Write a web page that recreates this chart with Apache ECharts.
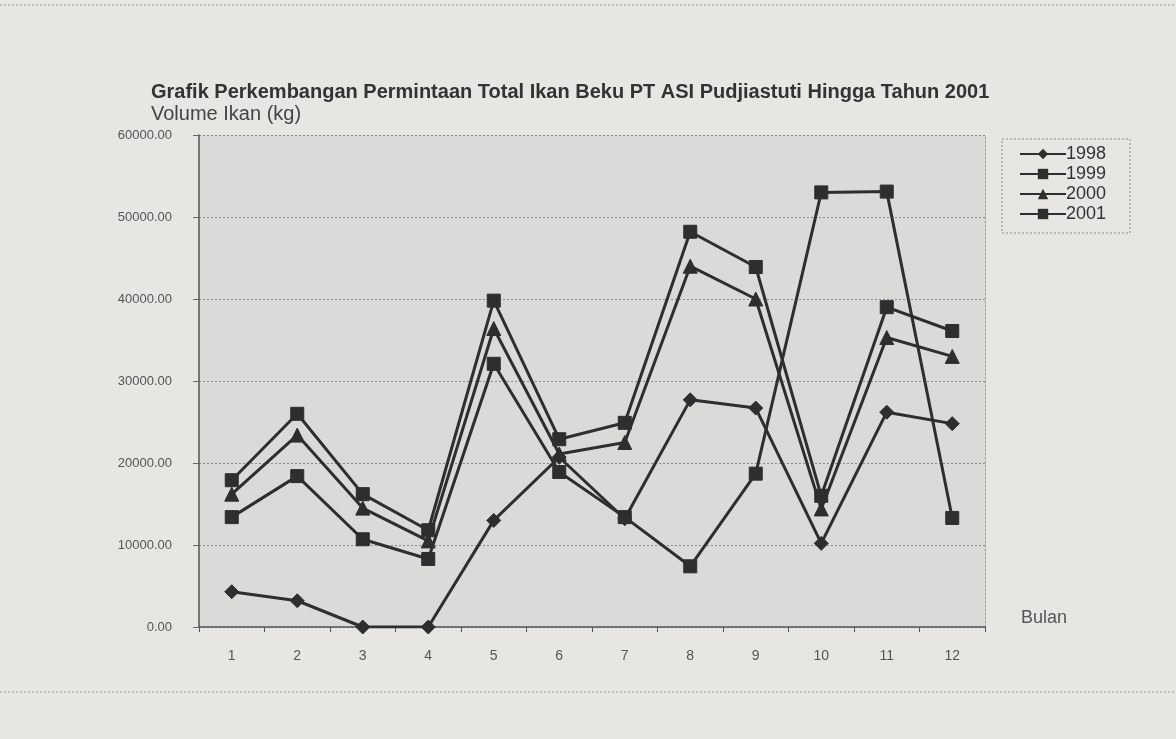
<!DOCTYPE html>
<html>
<head>
<meta charset="utf-8">
<style>
html,body{margin:0;padding:0;background:#e8e6e3;}
#chart{width:1176px;height:739px;}
</style>
<script src="https://cdn.jsdelivr.net/npm/echarts@6/dist/echarts.min.js"></script>
</head>
<body>
<div id="chart"></div>
<script>
// Data
var months = ['1','2','3','4','5','6','7','8','9','10','11','12'];
var seriesNames = ['1998','1999','2000','2001'];
var v1998 = [4300, 3200, 0, 0, 13000, 20700, 13200, 27700, 26700, 10200, 26200, 24800];
var v1999 = [17900, 26000, 16200, 11800, 39800, 22900, 24900, 48200, 43900, 16000, 39000, 36100];
var v2000 = [16200, 23400, 14500, 10500, 36400, 21100, 22500, 44000, 40000, 14400, 35300, 33000];
var v2001 = [13400, 18400, 10700, 8300, 32100, 18900, 13400, 7400, 18700, 53000, 53100, 13300];
var yTicks = {min: 0, max: 60000, interval: 10000};
var titleText = 'Grafik Perkembangan Permintaan Total Ikan Beku PT ASI Pudjiastuti Hingga Tahun 2001';
var yName = 'Volume Ikan (kg)';
var xName = 'Bulan';

var lineColor = '#2e2e2e';
var font = 'Liberation Sans, Arial, sans-serif';

function mk(name, data, symbol, size) {
  return {
    name: name, type: 'line', data: data,
    symbol: symbol, symbolSize: size,
    itemStyle: {color: lineColor, borderColor: lineColor},
    lineStyle: {color: lineColor, width: 3},
    emphasis: {disabled: true},
    animation: false
  };
}

var chart = echarts.init(document.getElementById('chart'), null, {renderer: 'canvas'});
chart.setOption({
  backgroundColor: '#e8e6e3',
  animation: false,
  textStyle: {fontFamily: font},
  title: [
    {text: titleText, left: 146, top: 77,
     textStyle: {fontFamily: font, fontSize: 20, fontWeight: 'bold', color: '#333'}},
    {text: yName, left: 146, top: 99,
     textStyle: {fontFamily: font, fontSize: 20, fontWeight: 'normal', color: '#444'}}
  ],
  legend: {
    orient: 'vertical', left: 1014, top: 140,
    itemWidth: 46, itemHeight: 13, itemGap: 2,
    data: seriesNames,
    textStyle: {fontFamily: font, fontSize: 18, color: '#333', padding: [0, 0, 0, -5]},
    selectedMode: false
  },
  grid: {left: 199, top: 135, width: 786, height: 492, show: true,
         backgroundColor: '#dadad8', borderWidth: 0},
  xAxis: {
    type: 'category', data: months, boundaryGap: true,
    name: xName, nameLocation: 'end', nameGap: 36,
    nameTextStyle: {fontFamily: font, fontSize: 18, color: '#555', verticalAlign: 'bottom'},
    axisLine: {lineStyle: {color: '#555', width: 1.5}},
    axisTick: {show: true, length: 5, lineStyle: {color: '#555'}},
    axisLabel: {fontFamily: font, fontSize: 14, color: '#555', margin: 22}
  },
  yAxis: [{
    type: 'value', min: yTicks.min, max: yTicks.max, interval: yTicks.interval,
    axisLine: {show: true, lineStyle: {color: '#555', width: 1.5}},
    axisTick: {show: true, length: 6, lineStyle: {color: '#666'}},
    axisLabel: {fontFamily: font, fontSize: 13, color: '#555', margin: 27,
      formatter: function (v) { return v.toFixed(2); }},
    splitLine: {show: true, lineStyle: {color: '#8a8a8a', type: [2, 2], width: 1}}
  }, {
    type: 'value', position: 'right', min: yTicks.min, max: yTicks.max, interval: yTicks.interval,
    axisLine: {show: true, lineStyle: {color: '#999', type: [2, 2], width: 1}},
    axisTick: {show: false}, axisLabel: {show: false}, splitLine: {show: false}
  }],
  graphic: [
    {type: 'rect', shape: {x: 1002, y: 139, width: 128, height: 94},
     style: {fill: 'none', stroke: '#888', lineWidth: 1, lineDash: [2, 2]}, z: -1},
    {type: 'line', shape: {x1: 0, y1: 5, x2: 1176, y2: 5},
     style: {stroke: '#999', lineWidth: 1, lineDash: [2, 2]}},
    {type: 'line', shape: {x1: 0, y1: 692, x2: 1176, y2: 692},
     style: {stroke: '#999', lineWidth: 1, lineDash: [2, 2]}}
  ],
  series: [
    mk('1998', v1998, 'diamond', 14),
    mk('1999', v1999, 'rect', 13),
    mk('2000', v2000, 'triangle', 14),
    mk('2001', v2001, 'rect', 13)
  ]
});
</script>
</body>
</html>
